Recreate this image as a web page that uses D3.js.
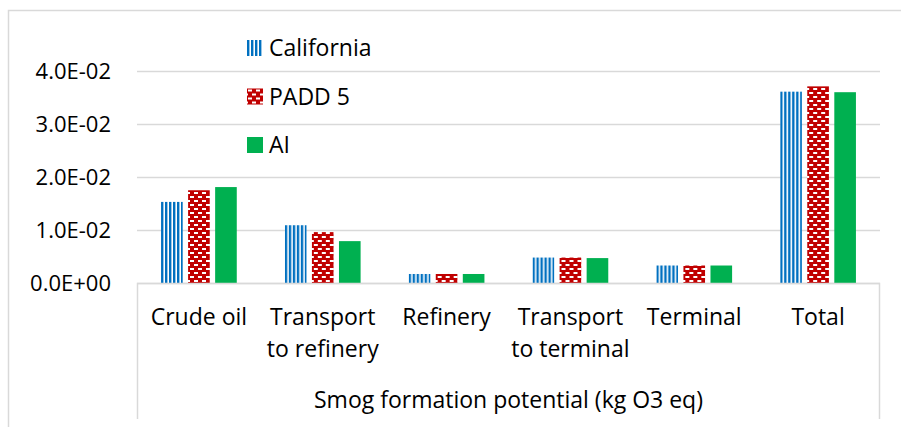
<!DOCTYPE html>
<html>
<head>
<meta charset="utf-8">
<script src="https://cdn.jsdelivr.net/npm/d3@7"></script>
<style>
  html, body { margin: 0; padding: 0; background: #fff; }
  svg { display: block; font-family: "Open Sans", sans-serif; }
</style>
</head>
<body>
<svg id="chart"></svg>
<script>
(function () {
  // Data
  const categories = ['Crude oil', 'Transport to refinery', 'Refinery', 'Transport to terminal', 'Terminal', 'Total'];
  const categoryLines = [['Crude oil'], ['Transport', 'to refinery'], ['Refinery'], ['Transport', 'to terminal'], ['Terminal'], ['Total']];
  const seriesNames = ['California', 'PADD 5', 'AI'];
  const california = [0.0153, 0.0109, 0.0017, 0.0048, 0.0033, 0.0361];
  const padd5 = [0.0175, 0.0096, 0.0017, 0.0048, 0.0033, 0.0371];
  const ai = [0.0181, 0.0079, 0.0017, 0.0047, 0.0033, 0.0360];
  const yTicks = [0, 0.01, 0.02, 0.03, 0.04];
  const axisTitle = 'Smog formation potential (kg O3 eq)';

  const seriesValues = [california, padd5, ai];
  const fills = ['url(#pat-cal)', 'url(#pat-padd)', '#00B050'];

  const width = 901, height = 427;
  const margin = { left: 137, right: 21, top: 71, bottom: 144 };
  const plotW = width - margin.left - margin.right;
  const plotH = height - margin.top - margin.bottom;
  const gridColor = '#D9D9D9';
  const fontSize = 23;

  const svg = d3.select('#chart').attr('width', width).attr('height', height);

  // Patterns
  const defs = svg.append('defs');
  const pCal = defs.append('pattern')
    .attr('id', 'pat-cal')
    .attr('patternUnits', 'userSpaceOnUse')
    .attr('width', 4).attr('height', 4);
  pCal.append('rect').attr('width', 4).attr('height', 4).attr('fill', '#fff');
  pCal.append('rect').attr('width', 2.4).attr('height', 4).attr('fill', '#0070C0');

  const pPadd = defs.append('pattern')
    .attr('id', 'pat-padd')
    .attr('patternUnits', 'userSpaceOnUse')
    .attr('width', 8).attr('height', 8);
  pPadd.append('rect').attr('width', 8).attr('height', 8).attr('fill', '#C00000');
  pPadd.append('rect').attr('x', 1).attr('y', 1).attr('width', 4).attr('height', 2).attr('fill', '#fff');
  pPadd.append('rect').attr('x', 5).attr('y', 5).attr('width', 4).attr('height', 2).attr('fill', '#fff');
  pPadd.append('rect').attr('x', -3).attr('y', 5).attr('width', 4).attr('height', 2).attr('fill', '#fff');

  // Outer chart border (left and top visible)
  svg.append('path')
    .attr('d', 'M8.5,' + height + 'V10.5H' + width)
    .attr('fill', 'none')
    .attr('stroke', gridColor)
    .attr('stroke-width', 1.5);

  const g = svg.append('g').attr('transform', `translate(${margin.left},${margin.top})`);

  const y = d3.scaleLinear().domain([0, 0.04]).range([plotH, 0]);
  const x0 = d3.scaleBand().domain(categories).range([0, plotW]).padding(0);
  const x1 = d3.scaleBand().domain(seriesNames).range([0, x0.bandwidth()])
    .paddingInner(0.2).paddingOuter(0.89);

  const fmt = v => {
    const s = d3.format('.1e')(v);
    const [m, e] = s.split('e');
    const sign = e[0] === '-' ? '-' : '+';
    const digits = e.replace(/[+-]/, '').padStart(2, '0');
    return m + 'E' + sign + digits;
  };

  // Gridlines + y labels
  const yAxis = d3.axisLeft(y).tickValues(yTicks).tickSize(-plotW).tickFormat(fmt).tickPadding(26);
  const ya = g.append('g').call(yAxis);
  ya.select('.domain').remove();
  ya.selectAll('line').attr('stroke', gridColor).attr('stroke-width', 1.5);
  ya.selectAll('text')
    .attr('fill', '#000')
    .attr('font-size', 22)
    .attr('font-family', '"Open Sans", sans-serif');

  // Bars
  const groups = g.append('g').selectAll('g')
    .data(categories)
    .join('g')
    .attr('transform', d => `translate(${x0(d)},0)`);

  groups.selectAll('rect')
    .data((d, i) => seriesNames.map((s, j) => ({ s, j, v: seriesValues[j][i] })))
    .join('rect')
    .attr('x', d => x1(d.s))
    .attr('width', x1.bandwidth())
    .attr('y', d => y(d.v))
    .attr('height', d => plotH - y(d.v))
    .attr('fill', d => fills[d.j]);

  // Category axis box
  g.append('path')
    .attr('d', `M0.5,${plotH + 136}V${plotH + 0.5}H${plotW - 0.5}V${plotH + 136}`)
    .attr('fill', 'none')
    .attr('stroke', gridColor)
    .attr('stroke-width', 1.5);

  // Category labels
  const catLabels = g.append('g').selectAll('text')
    .data(categories)
    .join('text')
    .attr('text-anchor', 'middle')
    .attr('font-size', fontSize)
    .attr('fill', '#000')
    .attr('x', d => x0(d) + x0.bandwidth() / 2)
    .attr('y', plotH + 42);
  catLabels.each(function (d, i) {
    const t = d3.select(this);
    categoryLines[i].forEach((line, k) => {
      t.append('tspan')
        .attr('x', x0(d) + x0.bandwidth() / 2)
        .attr('dy', k === 0 ? 0 : 32)
        .text(line);
    });
  });

  g.append('text')
    .attr('x', plotW / 2)
    .attr('y', plotH + 125)
    .attr('text-anchor', 'middle')
    .attr('font-size', fontSize)
    .attr('fill', '#000')
    .text(axisTitle);

  // Legend
  const legend = svg.append('g').attr('transform', 'translate(247,48)');
  const item = legend.selectAll('g')
    .data(seriesNames)
    .join('g')
    .attr('transform', (d, i) => `translate(0,${i * 48.5})`);
  item.append('rect')
    .attr('x', 0).attr('y', -8)
    .attr('width', 16).attr('height', 16)
    .attr('fill', (d, i) => fills[i]);
  item.append('text')
    .attr('x', 22)
    .attr('y', 0)
    .attr('dy', '0.35em')
    .attr('font-size', fontSize)
    .attr('fill', '#000')
    .text(d => d);
})();
</script>
</body>
</html>
